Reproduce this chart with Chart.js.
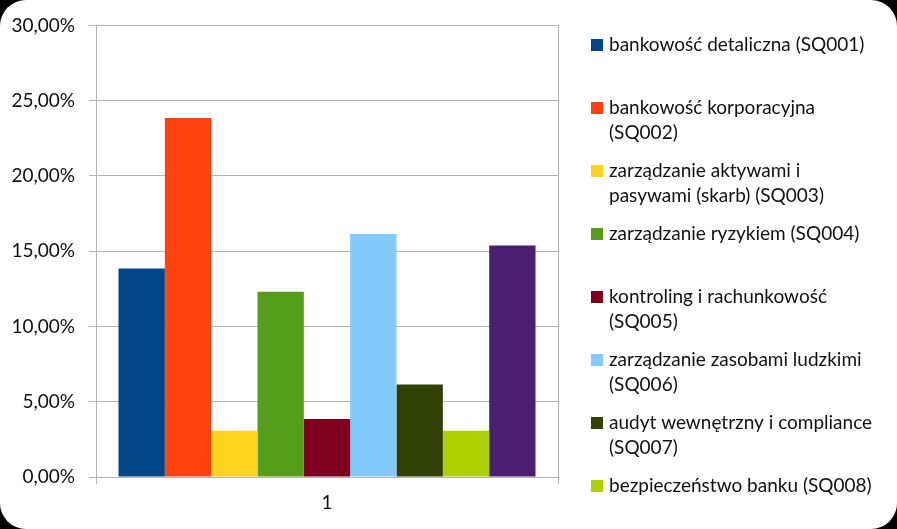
<!DOCTYPE html>
<html>
<head>
<meta charset="utf-8">
<script src="https://cdn.jsdelivr.net/npm/chart.js@4.4.0/dist/chart.umd.min.js"></script>
<style>
    html, body { margin: 0; padding: 0; background: #000; }
    #wrap { position: absolute; left: 0; top: 0; width: 897px; height: 529px; background: #fff; border-radius: 26px; overflow: hidden; }
</style>
</head>
<body>
<div id="wrap"><canvas id="chart" width="897" height="529"></canvas></div>
<script>
// Data
const categories = ["1"];
const seriesNames = [
    "bankowość detaliczna (SQ001)",
    "bankowość korporacyjna\n(SQ002)",
    "zarządzanie aktywami i\npasywami (skarb) (SQ003)",
    "zarządzanie ryzykiem (SQ004)",
    "kontroling i rachunkowość\n(SQ005)",
    "zarządzanie zasobami ludzkimi\n(SQ006)",
    "audyt wewnętrzny i compliance\n(SQ007)",
    "bezpieczeństwo banku (SQ008)",
    "SQ009"
];
const seriesValues = [13.85, 23.85, 3.08, 12.31, 3.85, 16.15, 6.15, 3.08, 15.38];
const seriesColors = ["#004586", "#ff420e", "#ffd320", "#579d1c", "#7e0021", "#83caff", "#314004", "#aecf00", "#4b1f6f"];
const yTicks = [0, 5, 10, 15, 20, 25, 30];
const legendCount = 8; // the 9th entry is cut off in the picture

const fontFamily = "Lato, 'Open Sans', sans-serif";
const textColor = "#111";
const gridColor = "#b3b3b3";

// Legend on the right, drawn by hand so the line breaks match
const sideLegend = {
    id: "sideLegend",
    afterDraw(chart) {
        const ctx = chart.ctx;
        ctx.save();
        ctx.font = "19px " + fontFamily;
        ctx.textBaseline = "middle";
        ctx.textAlign = "left";
        for (let i = 0; i < legendCount; i++) {
            const ds = chart.data.datasets[i];
            const y = 45 + i * 63;
            ctx.fillStyle = ds.backgroundColor;
            ctx.fillRect(591, y - 6, 12, 12);
            ctx.fillStyle = textColor;
            seriesNames[i].split("\n").forEach((line, j) => {
                ctx.fillText(line, 609, y + j * 25);
            });
        }
        ctx.restore();
    }
};

const datasets = seriesNames.map((name, i) => ({
    label: name.replace("\n", " "),
    data: [seriesValues[i]],
    backgroundColor: seriesColors[i],
    borderWidth: 0,
    categoryPercentage: 0.9026,
    barPercentage: 1
}));

new Chart(document.getElementById("chart"), {
    type: "bar",
    data: { labels: categories, datasets: datasets },
    plugins: [sideLegend],
    options: {
        responsive: false,
        animation: false,
        devicePixelRatio: 1,
        layout: { padding: { top: 23, right: 339, left: 0, bottom: 0 } },
        plugins: {
            legend: { display: false },
            tooltip: { enabled: false }
        },
        scales: {
            x: {
                grid: { color: gridColor, tickLength: 7, offset: true },
                border: { color: gridColor },
                ticks: { color: textColor, font: { family: fontFamily, size: 19 }, padding: 7 },
                afterFit: (scale) => { scale.height = 52; }
            },
            y: {
                min: 0,
                max: 30,
                afterBuildTicks: (scale) => { scale.ticks = yTicks.map(v => ({ value: v })); },
                grid: { color: gridColor, tickLength: 7 },
                border: { color: gridColor },
                ticks: {
                    color: textColor,
                    font: { family: fontFamily, size: 19 },
                    padding: 14,
                    callback: (v) => v.toFixed(2).replace(".", ",") + "%"
                },
                afterFit: (scale) => { scale.width = 96; }
            }
        }
    }
});
</script>
</body>
</html>
